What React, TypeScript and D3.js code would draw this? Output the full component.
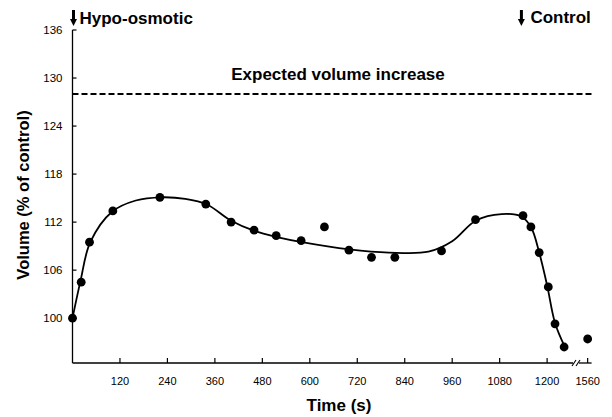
import React from "react";
import * as d3 from "d3";

// Measured points (time in s, volume in % of control)
const pointTimes = [0, 22, 43, 102, 221, 337, 401, 459, 515, 578, 637, 699, 756, 815, 933, 1019, 1139, 1159, 1180, 1203, 1220, 1243, 1560];
const pointValues = [100, 104.5, 109.5, 113.4, 115.1, 114.25, 112, 111, 110.3, 109.7, 111.4, 108.5, 107.6, 107.6, 108.4, 112.3, 112.8, 111.4, 108.2, 103.9, 99.3, 96.4, 97.4];

// Hand-fitted smooth curve knots
const curveTimes = [0, 20, 45, 100, 160, 225, 285, 340, 400, 460, 520, 580, 700, 800, 900, 960, 1020, 1085, 1135, 1160, 1180, 1200, 1220, 1245];
const curveValues = [100, 104.6, 109.5, 113.3, 114.7, 115.1, 114.9, 114.2, 112.2, 110.9, 110.1, 109.5, 108.6, 108.2, 108.3, 109.6, 112.2, 113.0, 112.7, 111.3, 108.2, 104.1, 99.4, 96.4];

const yTicks = [100, 106, 112, 118, 124, 130, 136];
const xTicks = [120, 240, 360, 480, 600, 720, 840, 960, 1080, 1200, 1560];
const expectedLevel = 128;

const W = 612;
const H = 417;
const FONT = "'Liberation Sans', Arial, Helvetica, sans-serif";

export default function App() {
  const x = d3
    .scaleLinear()
    .domain([0, 1270, 1530, 1570])
    .range([72.5, 574.8, 575.8, 591.6]);
  const y = d3.scaleLinear().domain([94.4, 136]).range([363, 30]);

  const x0 = x(0);
  const yBase = y(94.4);

  const curveData = curveTimes.map((t, i) => [t, curveValues[i]] as [number, number]);
  const line = d3
    .line<[number, number]>()
    .x((d) => x(d[0]))
    .y((d) => y(d[1]))
    .curve(d3.curveCatmullRom.alpha(0.5));

  const breakX = 576;
  const arrow = (ax: number) => (
    <g>
      <line x1={ax} x2={ax} y1={10} y2={20} stroke="#000" strokeWidth={3} />
      <path d={`M${ax - 3.5},${19} L${ax + 3.5},${19} L${ax},${26} Z`} fill="#000" />
    </g>
  );

  return (
    <svg
      width={W}
      height={H}
      style={{ position: "absolute", left: 0, top: 0, background: "#fff" }}
      fontFamily={FONT}
    >
      <rect x={0} y={0} width={W} height={H} fill="#fff" />
      {/* y axis */}
      <line x1={x0} x2={x0} y1={y(136)} y2={yBase} stroke="#000" strokeWidth={1.3} />
      {yTicks.map((v) => (
        <g key={v}>
          <line x1={x0} x2={x0 + 4} y1={y(v)} y2={y(v)} stroke="#000" strokeWidth={1.2} />
          <text x={x0 - 10} y={y(v) + 4} fontSize={11.5} textAnchor="end" fill="#000">
            {v}
          </text>
        </g>
      ))}
      {/* x axis with break */}
      <line x1={x0} x2={breakX - 3} y1={yBase} y2={yBase} stroke="#000" strokeWidth={1.3} />
      <line x1={breakX + 3} x2={x(1570)} y1={yBase} y2={yBase} stroke="#000" strokeWidth={1.3} />
      <line x1={breakX - 4} x2={breakX} y1={yBase + 3} y2={yBase - 3} stroke="#000" strokeWidth={1.1} />
      <line x1={breakX} x2={breakX + 4} y1={yBase + 3} y2={yBase - 3} stroke="#000" strokeWidth={1.1} />
      {xTicks.map((t) => (
        <g key={t}>
          <line x1={x(t)} x2={x(t)} y1={yBase} y2={yBase - 5} stroke="#000" strokeWidth={1.2} />
          <text x={x(t)} y={yBase + 22} fontSize={11} textAnchor="middle" fill="#000">
            {t}
          </text>
        </g>
      ))}
      {/* axis titles */}
      <text x={339} y={411} fontSize={17} fontWeight="bold" textAnchor="middle" fill="#000">
        Time (s)
      </text>
      <text
        transform={`translate(29,195) rotate(-90)`}
        fontSize={16.5}
        fontWeight="bold"
        textAnchor="middle"
        fill="#000"
      >
        Volume (% of control)
      </text>
      {/* expected line */}
      <line
        x1={x0}
        x2={x(1570)}
        y1={y(expectedLevel)}
        y2={y(expectedLevel)}
        stroke="#000"
        strokeWidth={2}
        strokeDasharray="6,3"
      />
      <text x={338} y={80} fontSize={17} fontWeight="bold" textAnchor="middle" fill="#000">
        Expected volume increase
      </text>
      {/* annotations */}
      {arrow(x(0) + 1)}
      <text x={x(0) + 7} y={24} fontSize={17} fontWeight="bold" fill="#000">
        Hypo-osmotic
      </text>
      {arrow(x(1135))}
      <text x={x(1135) + 9} y={23} fontSize={17} fontWeight="bold" fill="#000">
        Control
      </text>
      {/* fitted curve */}
      <path d={line(curveData) ?? ""} fill="none" stroke="#000" strokeWidth={1.8} />
      {/* points */}
      {pointTimes.map((t, i) => (
        <circle key={i} cx={x(t)} cy={y(pointValues[i])} r={4.4} fill="#000" />
      ))}
    </svg>
  );
}
